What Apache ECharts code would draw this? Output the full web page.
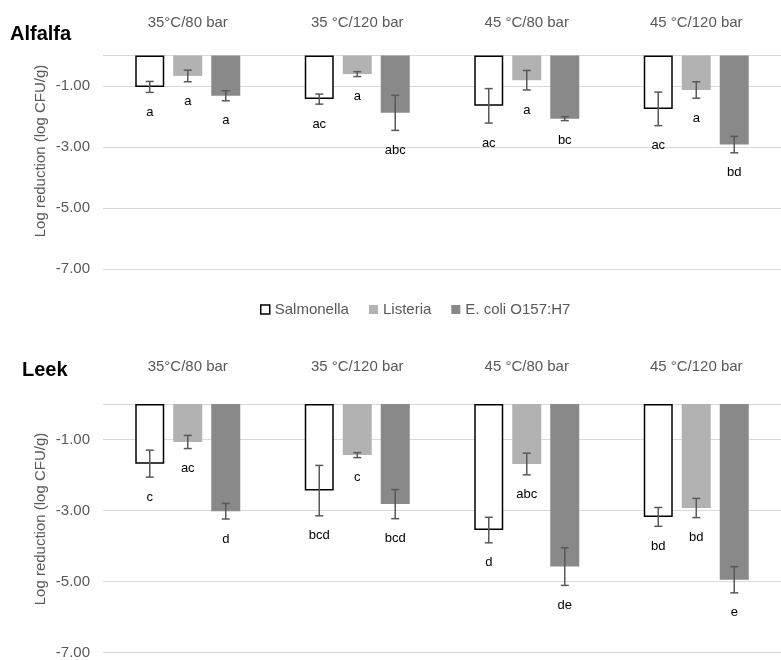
<!DOCTYPE html>
<html>
<head>
<meta charset="utf-8">
<script src="https://cdn.jsdelivr.net/npm/echarts@6/dist/echarts.min.js"></script>
<style>html,body{margin:0;padding:0;background:#fff;}#c{width:781px;height:660px;}</style>
</head>
<body>
<div id="c"></div>
<script>
const categories = ['35°C/80 bar', '35 °C/120 bar', '45 °C/80 bar', '45 °C/120 bar'];
const seriesNames = ['Salmonella', 'Listeria', 'E. coli O157:H7'];
const yTickValues = [-1, -3, -5, -7];

// Alfalfa
const alfalfaSalmonella = [-1.03, -1.43, -1.65, -1.75];
const alfalfaSalmonellaErr = [0.18, 0.165, 0.565, 0.55];
const alfalfaSalmonellaLetters = ['a', 'ac', 'ac', 'ac'];
const alfalfaListeria = [-0.67, -0.61, -0.81, -1.13];
const alfalfaListeriaErr = [0.19, 0.08, 0.32, 0.27];
const alfalfaListeriaLetters = ['a', 'a', 'a', 'a'];
const alfalfaEcoli = [-1.32, -1.88, -2.07, -2.92];
const alfalfaEcoliErr = [0.165, 0.575, 0.065, 0.27];
const alfalfaEcoliLetters = ['a', 'abc', 'bc', 'bd'];

// Leek
const leekSalmonella = [-1.68, -2.44, -3.55, -3.18];
const leekSalmonellaErr = [0.38, 0.71, 0.36, 0.265];
const leekSalmonellaLetters = ['c', 'bcd', 'd', 'bd'];
const leekListeria = [-1.07, -1.44, -1.69, -2.93];
const leekListeriaErr = [0.185, 0.07, 0.305, 0.27];
const leekListeriaLetters = ['ac', 'c', 'abc', 'bd'];
const leekEcoli = [-3.02, -2.82, -4.58, -4.95];
const leekEcoliErr = [0.22, 0.41, 0.53, 0.37];
const leekEcoliLetters = ['d', 'bcd', 'de', 'e'];

const FONT = "'Liberation Sans', Arial, sans-serif";
const GRAY_TEXT = '#595959';
const BAR_W = 29;
const BAR_GAP = 9;
const STEP = BAR_W + BAR_GAP;
const colors = ['#ffffff', '#b2b2b2', '#898989'];

function barSeries(name, idx, data, gi) {
  const s = {
    name: name, type: 'bar', xAxisIndex: gi, yAxisIndex: gi,
    data: data, barWidth: BAR_W, barGap: (BAR_GAP / BAR_W * 100) + '%',
    itemStyle: { color: colors[idx] }, z: 2
  };
  if (idx === 0) { s.itemStyle.borderColor = '#000'; s.itemStyle.borderWidth = 1.5; }
  return s;
}

function errSeries(name, idx, vals, errs, letters, gi) {
  return {
    name: name, type: 'custom', xAxisIndex: gi, yAxisIndex: gi, z: 5,
    data: vals.map((v, i) => [i, v, errs[i]]),
    renderItem: function (params, api) {
      const cat = api.value(0), v = api.value(1), e = api.value(2);
      const c = api.coord([cat, v]);
      const x = c[0] + (idx - 1) * STEP;
      const yT = api.coord([cat, v + e])[1];
      const yB = api.coord([cat, v - e])[1];
      const st = { stroke: '#595959', lineWidth: 1.5 };
      const cap = 4;
      return {
        type: 'group', children: [
          { type: 'line', shape: { x1: x, y1: yT, x2: x, y2: yB }, style: st },
          { type: 'line', shape: { x1: x - cap, y1: yT, x2: x + cap, y2: yT }, style: st },
          { type: 'line', shape: { x1: x - cap, y1: yB, x2: x + cap, y2: yB }, style: st },
          { type: 'text', x: x, y: yB + 20, style: {
              text: letters[params.dataIndex], fill: '#000', font: '13px ' + FONT,
              align: 'center', verticalAlign: 'middle' } }
        ]
      };
    }
  };
}

const grids = [
  { left: 103, width: 680, top: 55.5, height: 213.5 },
  { left: 103, width: 680, top: 404, height: 252 }
];

function xAxis(gi, margin) {
  return {
    type: 'category', gridIndex: gi, data: categories, position: 'top',
    axisLine: { show: false }, axisTick: { show: false },
    axisLabel: { color: GRAY_TEXT, fontSize: 15, fontFamily: FONT, margin: margin }
  };
}
function yAxis(gi) {
  return {
    type: 'value', gridIndex: gi, min: -7, max: 0, interval: 2,
    axisLine: { show: false }, axisTick: { show: false },
    axisLabel: {
      color: GRAY_TEXT, fontSize: 15, fontFamily: FONT, margin: 13,
      formatter: v => (yTickValues.indexOf(v) >= 0 ? v.toFixed(2) : '')
    },
    splitLine: { show: true, lineStyle: { color: '#d9d9d9', width: 1 } }
  };
}

const series = [
  barSeries(seriesNames[0], 0, alfalfaSalmonella, 0),
  barSeries(seriesNames[1], 1, alfalfaListeria, 0),
  barSeries(seriesNames[2], 2, alfalfaEcoli, 0),
  barSeries(seriesNames[0], 0, leekSalmonella, 1),
  barSeries(seriesNames[1], 1, leekListeria, 1),
  barSeries(seriesNames[2], 2, leekEcoli, 1),
  errSeries(seriesNames[0], 0, alfalfaSalmonella, alfalfaSalmonellaErr, alfalfaSalmonellaLetters, 0),
  errSeries(seriesNames[1], 1, alfalfaListeria, alfalfaListeriaErr, alfalfaListeriaLetters, 0),
  errSeries(seriesNames[2], 2, alfalfaEcoli, alfalfaEcoliErr, alfalfaEcoliLetters, 0),
  errSeries(seriesNames[0], 0, leekSalmonella, leekSalmonellaErr, leekSalmonellaLetters, 1),
  errSeries(seriesNames[1], 1, leekListeria, leekListeriaErr, leekListeriaLetters, 1),
  errSeries(seriesNames[2], 2, leekEcoli, leekEcoliErr, leekEcoliLetters, 1)
];

const chart = echarts.init(document.getElementById('c'), null, { renderer: 'canvas' });
chart.setOption({
  animation: false,
  backgroundColor: '#ffffff',
  textStyle: { fontFamily: FONT },
  grid: grids,
  xAxis: [xAxis(0, 25), xAxis(1, 30)],
  yAxis: [yAxis(0), yAxis(1)],
  legend: {
    left: 255, top: 297, itemWidth: 9, itemHeight: 9, itemGap: 20,
    textStyle: { color: GRAY_TEXT, fontSize: 15, fontFamily: FONT },
    data: [
      { name: seriesNames[0], icon: 'rect', itemStyle: { color: '#fff', borderColor: '#000', borderWidth: 1.5 } },
      { name: seriesNames[1], icon: 'rect', itemStyle: { color: colors[1], borderWidth: 0 } },
      { name: seriesNames[2], icon: 'rect', itemStyle: { color: colors[2], borderWidth: 0 } }
    ],
    selectedMode: false
  },
  graphic: [
    { type: 'text', left: 10, top: 24, style: { text: 'Alfalfa', font: 'bold 20px ' + FONT, fill: '#000' } },
    { type: 'text', left: 22, top: 360, style: { text: 'Leek', font: 'bold 20px ' + FONT, fill: '#000' } },
    { type: 'text', x: 41, y: 151, rotation: Math.PI / 2, style: { text: 'Log reduction (log CFU/g)', font: '15px ' + FONT, fill: GRAY_TEXT, align: 'center', verticalAlign: 'middle' } },
    { type: 'text', x: 41, y: 519, rotation: Math.PI / 2, style: { text: 'Log reduction (log CFU/g)', font: '15px ' + FONT, fill: GRAY_TEXT, align: 'center', verticalAlign: 'middle' } }
  ],
  series: series
});
</script>
</body>
</html>
